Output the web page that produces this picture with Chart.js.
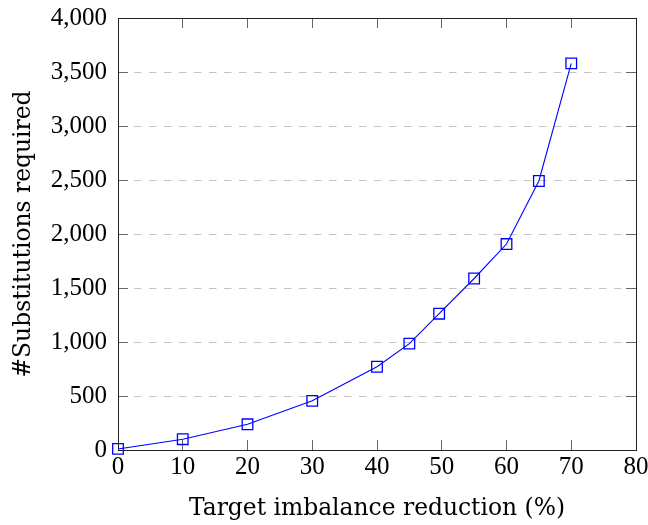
<!DOCTYPE html>
<html>
<head>
<meta charset="utf-8">
<script src="https://cdn.jsdelivr.net/npm/chart.js@4/dist/chart.umd.min.js"></script>
<style>
	html, body { margin: 0; padding: 0; background: #fff; }
	#chart-substitutions { display: block; }
</style>
</head>
<body>
<canvas id="chart-substitutions" width="648" height="525"></canvas>
<script>
// Data
const REDUCTION_PCT = [0, 10, 20, 30, 40, 45, 49.6, 55, 60, 65, 70];
const SUBSTITUTIONS = [10, 100, 238, 455, 771, 985, 1262, 1588, 1907, 2491, 3580];
const X_TICKS = [0, 10, 20, 30, 40, 50, 60, 70, 80];
const Y_TICKS = [0, 500, 1000, 1500, 2000, 2500, 3000, 3500, 4000];

const X_TITLE = "Target imbalance reduction (%)";
const Y_TITLE = "#Substitutions required";

const TICK_FONT = { family: "'Liberation Serif', serif", size: 25 };
const TITLE_FONT = { family: "'DejaVu Serif', serif", size: 23.4 };
const FRAME = "#222";
const TICK_COLOR = "#666";

// Fix axis box size and drop the label overhang padding
const fixSize = (w, h) => (scale) => {
	if (w !== null) scale.width = w;
	if (h !== null) scale.height = h;
	scale.paddingTop = 0;
	scale.paddingBottom = 0;
	scale.paddingLeft = 0;
	scale.paddingRight = 0;
};

// Frame-only axis (top / right) with inward ticks
const frameAxis = (position, values, afterFit) => ({
	type: "linear",
	position,
	display: true,
	min: values[0],
	max: values[values.length - 1],
	afterBuildTicks: (scale) => {
		scale.ticks = values.map((v) => ({ value: v }));
	},
	afterFit,
	border: { display: true, color: FRAME, width: 1 },
	grid: {
		drawOnChartArea: false,
		drawTicks: true,
		tickLength: -10,
		tickColor: TICK_COLOR,
		tickWidth: 1,
	},
	ticks: { display: false },
});

const CHART_DATA = {
	datasets: [
		{
			data: REDUCTION_PCT.map((x, i) => ({ x, y: SUBSTITUTIONS[i] })),
			borderColor: "#0000ff",
			borderWidth: 1.1,
			tension: 0,
			fill: false,
			clip: false,
			pointStyle: "rect",
			pointRadius: 7.5,
			pointBorderWidth: 1.3,
			pointBackgroundColor: "rgba(0,0,0,0)",
			pointBorderColor: "#0000ff",
			xAxisID: "x",
			yAxisID: "y",
		},
	],
};

const CHART_CONFIG = {
	type: "line",
	data: CHART_DATA,
	options: {
		responsive: false,
		animation: false,
		devicePixelRatio: 1,
		layout: { padding: 0 },
		events: [],
		scales: {
			x: {
				type: "linear",
				position: "bottom",
				min: 0,
				max: 80,
				afterBuildTicks: (scale) => {
					scale.ticks = X_TICKS.map((v) => ({ value: v }));
				},
				afterFit: fixSize(null, 75),
				border: { display: true, color: FRAME, width: 1 },
				grid: {
					drawOnChartArea: false,
					drawTicks: true,
					tickLength: -10,
					tickColor: TICK_COLOR,
					tickWidth: 1,
				},
				ticks: {
					color: "#000",
					font: TICK_FONT,
					padding: 12,
					maxRotation: 0,
					autoSkip: false,
				},
				title: {
					display: true,
					text: X_TITLE,
					color: "#000",
					font: TITLE_FONT,
					padding: { top: 0, bottom: 2 },
				},
			},
			y: {
				type: "linear",
				position: "left",
				min: 0,
				max: 4000,
				afterBuildTicks: (scale) => {
					scale.ticks = Y_TICKS.map((v) => ({ value: v }));
				},
				afterFit: fixSize(118, null),
				border: { display: true, color: FRAME, width: 1, dash: [7.5, 7.5] },
				grid: {
					drawOnChartArea: true,
					drawTicks: true,
					tickLength: -10,
					color: (ctx) =>
						ctx.tick && (ctx.tick.value === 0 || ctx.tick.value === 4000) ? "rgba(0,0,0,0)" : "#c4c4c4",
					lineWidth: 1,
					tickColor: TICK_COLOR,
					tickWidth: 1,
					tickBorderDash: [],
				},
				ticks: {
					color: "#000",
					font: TICK_FONT,
					padding: 21,
					autoSkip: false,
					callback: (value) => value.toLocaleString("en-US"),
				},
				title: {
					display: true,
					text: Y_TITLE,
					color: "#000",
					font: TITLE_FONT,
					padding: { top: 10, bottom: 0 },
				},
			},
			x2: frameAxis("top", X_TICKS, fixSize(null, 18)),
			y2: frameAxis("right", Y_TICKS, fixSize(12, null)),
		},
		plugins: {
			legend: { display: false },
			tooltip: { enabled: false },
		},
	},
};

const CHART_WRAPPER = document.getElementById("chart-substitutions");
if (CHART_WRAPPER) {
	new Chart(CHART_WRAPPER, CHART_CONFIG);
}
</script>
</body>
</html>
